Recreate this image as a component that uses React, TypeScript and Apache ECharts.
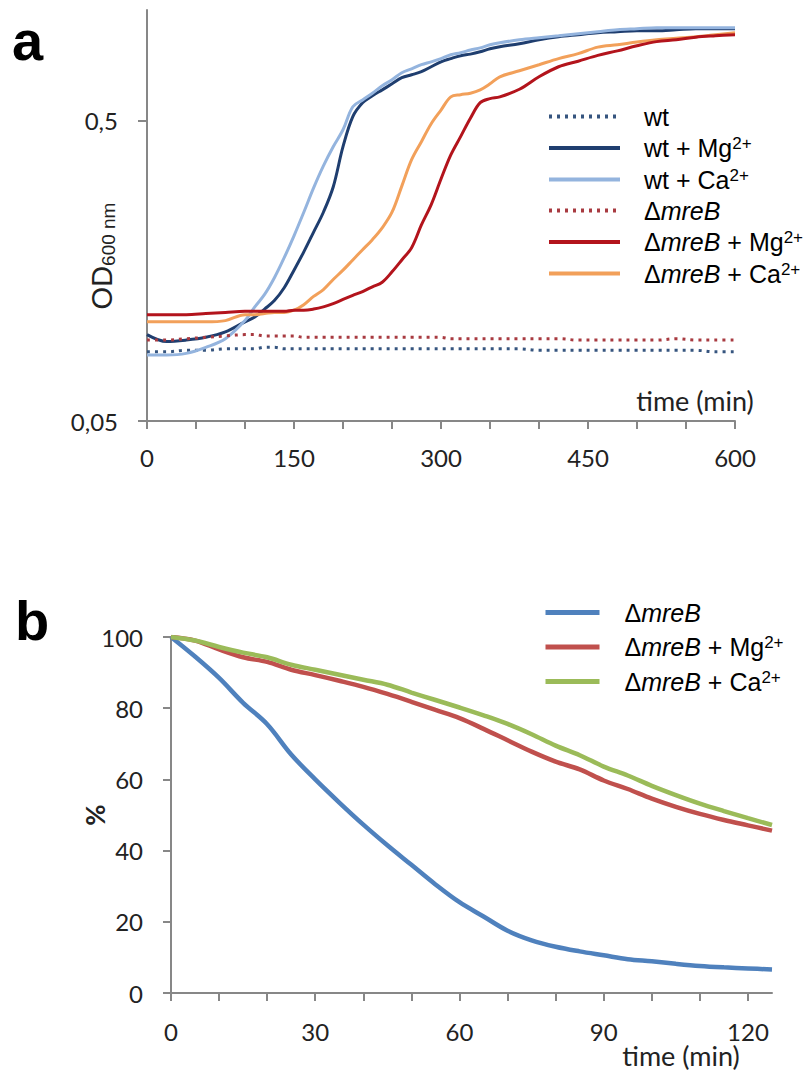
import React, { useEffect, useRef } from "react";
import * as echarts from "echarts";

// ---------- Panel a: growth curves (OD600, log scale) ----------
const TIME_A = [0, 20, 40, 60, 80, 100, 110, 120, 130, 140, 150, 160, 170, 180, 190, 200, 210, 220, 230, 240, 250, 260, 270, 280, 290, 300, 310, 320, 330, 340, 350, 360, 380, 400, 420, 440, 460, 480, 500, 520, 540, 560, 580, 600];

const WT = [0.085, 0.085, 0.086, 0.086, 0.087,
  0.087, 0.087, 0.088, 0.088, 0.087, 0.087, 0.087, 0.087, 0.087, 0.087, 0.087, 0.087, 0.087, 0.087, 0.087, 0.087, 0.087, 0.087, 0.087, 0.087, 0.087, 0.087, 0.087, 0.087, 0.087, 0.087, 0.087,
  0.087, 0.086, 0.086, 0.086, 0.086, 0.086, 0.086, 0.086, 0.086, 0.086, 0.085, 0.085];

const WT_MG = [0.097, 0.092, 0.093, 0.095, 0.099,
  0.107, 0.111, 0.118, 0.126, 0.139, 0.159, 0.183, 0.213, 0.248, 0.301, 0.41, 0.516, 0.574, 0.606, 0.634, 0.664, 0.696, 0.712, 0.729, 0.757, 0.786, 0.806, 0.824, 0.834, 0.849, 0.869, 0.883,
  0.903, 0.931, 0.953, 0.968, 0.983, 0.99, 0.998, 0.998, 1.005, 1.013, 1.013, 1.013];

const WT_CA = [0.083, 0.083, 0.084, 0.088, 0.094,
  0.108, 0.12, 0.132, 0.15, 0.175, 0.207, 0.248, 0.299, 0.354, 0.41, 0.467, 0.557, 0.587, 0.618, 0.654, 0.685, 0.723, 0.745, 0.769, 0.786, 0.806, 0.83, 0.843, 0.861, 0.875, 0.896, 0.91,
  0.931, 0.946, 0.96, 0.975, 0.99, 1.005, 1.013, 1.021, 1.021, 1.021, 1.021, 1.021];

const MREB = [0.093, 0.093, 0.094, 0.095, 0.096,
  0.097, 0.097, 0.096, 0.096, 0.096, 0.096, 0.095, 0.095, 0.095, 0.095, 0.095, 0.095, 0.095, 0.095, 0.095, 0.095, 0.095, 0.095, 0.095, 0.095, 0.095, 0.094, 0.094, 0.094, 0.094, 0.094, 0.094,
  0.094, 0.094, 0.094, 0.093, 0.093, 0.093, 0.093, 0.093, 0.094, 0.093, 0.093, 0.093];

const MREB_MG = [0.113, 0.113, 0.113, 0.114, 0.115,
  0.116, 0.116, 0.116, 0.116, 0.116, 0.117, 0.117, 0.118, 0.12, 0.123, 0.127, 0.131, 0.135, 0.14, 0.145, 0.157, 0.172, 0.189, 0.225, 0.263, 0.32, 0.385, 0.443, 0.51, 0.575, 0.593, 0.601,
  0.637, 0.701, 0.757, 0.79, 0.826, 0.855, 0.889, 0.918, 0.931, 0.95, 0.96, 0.968];

const MREB_CA = [0.107, 0.107, 0.107, 0.107, 0.108,
  0.113, 0.113, 0.114, 0.115, 0.115, 0.117, 0.122, 0.13, 0.137, 0.148, 0.159, 0.172, 0.186, 0.201, 0.22, 0.248, 0.303, 0.371, 0.426, 0.489, 0.543, 0.601, 0.611, 0.618, 0.634, 0.664, 0.701,
  0.734, 0.769, 0.806, 0.837, 0.88, 0.896, 0.915, 0.931, 0.942, 0.953, 0.968, 0.983];

const TICKS_X_A = [0, 50, 100, 150, 200, 250, 300, 350, 400, 450, 500, 550, 600];
const LABELS_X_A = [0, 150, 300, 450, 600];
const LABELS_Y_A = [0.05, 0.5];

// ---------- Panel b: survival (%) ----------
const TIME_B = [0, 5, 10, 15, 20, 25, 30, 35, 40, 45, 50, 55, 60, 65, 70, 75, 80, 85, 90, 95, 100, 105, 110, 115, 120, 125];
const B_MREB = [100, 94.5, 88.5, 81.5, 75.5, 67, 60, 53.5, 47.3, 41.5, 36, 30.5, 25.5, 21.5, 17.5, 14.8, 13, 11.7, 10.6, 9.5, 8.9, 8.2, 7.6, 7.2, 6.9, 6.6];
const B_MREB_MG = [100, 99, 96.5, 94.3, 93, 90.8, 89.3, 87.7, 86, 84, 81.8, 79.5, 77.2, 74.2, 71, 67.8, 65, 62.8, 59.7, 57.3, 54.6, 52.3, 50.3, 48.6, 47.1, 45.6];
const B_MREB_CA = [100, 99, 97.2, 95.6, 94.3, 92.2, 90.8, 89.4, 88, 86.6, 84.4, 82.3, 80.2, 78, 75.6, 72.7, 69.5, 66.8, 63.6, 61.1, 58.2, 55.6, 53.2, 51.1, 49.1, 47.2];

const TICKS_X_B = [0, 10, 20, 30, 40, 50, 60, 70, 80, 90, 100, 110, 120];
const LABELS_X_B = [0, 30, 60, 90, 120];

const NUM_FONT = "Lato, 'Open Sans', sans-serif";
const LEG_FONT = "'Liberation Sans', Arial, sans-serif";
const AXIS_COLOR = "#878787";
const TEXT_COLOR = "#222222";

const LEGEND_LABELS: Record<string, string> = {
  "wt": "{n|wt}",
  "wt + Mg2+": "{n|wt + Mg}{s|2+}",
  "wt + Ca2+": "{n|wt + Ca}{s|2+}",
  "ΔmreB": "{n|Δ}{i|mreB}",
  "ΔmreB + Mg2+": "{n|Δ}{i|mreB}{n| + Mg}{s|2+}",
  "ΔmreB + Ca2+": "{n|Δ}{i|mreB}{n| + Ca}{s|2+}",
};

const RICH = {
  n: { fontFamily: LEG_FONT, fontSize: 25, color: "#000", lineHeight: 26 },
  i: { fontFamily: LEG_FONT, fontSize: 25, fontStyle: "italic", color: "#000", lineHeight: 26 },
  s: { fontFamily: LEG_FONT, fontSize: 17, color: "#000", lineHeight: 15, verticalAlign: "top" },
};

function pairs(xs: number[], ys: number[]) {
  return xs.map((x, i) => [x, ys[i]]);
}

function lineSeries(name: string, xs: number[], ys: number[], color: string, width: number, type: any, z = 2) {
  return {
    type: "line",
    name,
    data: pairs(xs, ys),
    showSymbol: false,
    symbol: "none",
    smooth: 0.35,
    z,
    itemStyle: { color },
    lineStyle: { color, width, type },
  };
}

const axisLineStyle = { color: AXIS_COLOR, width: 2 };
const hiddenSymbol = { color: "rgba(0,0,0,0)", borderColor: "rgba(0,0,0,0)", borderWidth: 0, opacity: 0 };

export default function App() {
  const refA = useRef<HTMLDivElement>(null);
  const refB = useRef<HTMLDivElement>(null);

  useEffect(() => {
    document.body.style.margin = "0";
    const chartA = echarts.init(refA.current!, undefined, { renderer: "svg" });
    const chartB = echarts.init(refB.current!, undefined, { renderer: "svg" });

    const dotted = [3, 5];

    chartA.setOption({
      animation: false,
      grid: { left: 147, right: 77, top: 10, bottom: 119 },
      xAxis: {
        type: "value",
        min: 0,
        max: 600,
        splitLine: { show: false },
        axisLine: { show: true, lineStyle: axisLineStyle },
        axisTick: { show: true, customValues: TICKS_X_A, length: 8, lineStyle: axisLineStyle },
        axisLabel: { customValues: LABELS_X_A, margin: 24, fontFamily: NUM_FONT, fontSize: 24, color: TEXT_COLOR },
      },
      yAxis: {
        type: "log",
        logBase: 10,
        min: 0.05,
        max: 1.17,
        splitLine: { show: false },
        minorTick: { show: false },
        axisLine: { show: true, lineStyle: axisLineStyle },
        axisTick: { show: true, customValues: LABELS_Y_A, length: 9, lineStyle: axisLineStyle },
        axisLabel: {
          customValues: LABELS_Y_A,
          margin: 29,
          fontFamily: NUM_FONT,
          fontSize: 24,
          color: TEXT_COLOR,
          formatter: (v: number) => String(Number(Number(v).toPrecision(2))).replace(".", ","),
        },
      },
      legend: {
        orient: "vertical",
        left: 547,
        top: 104,
        padding: 0,
        itemWidth: 71,
        itemHeight: 14,
        itemGap: 6,
        itemStyle: hiddenSymbol,
        lineStyle: { width: 4 },
        data: ["wt", "wt + Mg2+", "wt + Ca2+", "ΔmreB", "ΔmreB + Mg2+", "ΔmreB + Ca2+"],
        formatter: (n: string) => LEGEND_LABELS[n] || n,
        textStyle: { padding: [0, 0, 0, 19], rich: RICH },
      },
      series: [
        lineSeries("wt", TIME_A, WT, "#36557f", 3, dotted),
        lineSeries("wt + Mg2+", TIME_A, WT_MG, "#1f3e6f", 3, "solid"),
        lineSeries("wt + Ca2+", TIME_A, WT_CA, "#94b4de", 3, "solid"),
        lineSeries("ΔmreB", TIME_A, MREB, "#a83a40", 3, dotted),
        lineSeries("ΔmreB + Mg2+", TIME_A, MREB_MG, "#b3141c", 3, "solid", 3),
        lineSeries("ΔmreB + Ca2+", TIME_A, MREB_CA, "#f2a05a", 3, "solid"),
      ],
      graphic: [
        {
          type: "text",
          style: { x: 12, y: 40, text: "a", font: "bold 56px 'Liberation Sans', Arial, sans-serif", fill: "#000", textAlign: "left", textVerticalAlign: "middle", verticalAlign: "middle" },
        },
        {
          type: "text",
          x: 102,
          y: 256,
          rotation: Math.PI / 2,
          style: {
            text: "{a|OD}{b|600 nm}",
            align: "center",
            verticalAlign: "middle",
            textAlign: "center",
            textVerticalAlign: "middle",
            rich: {
              a: { fontFamily: LEG_FONT, fontSize: 29, fill: TEXT_COLOR, color: TEXT_COLOR, lineHeight: 32 },
              b: { fontFamily: LEG_FONT, fontSize: 19, fill: TEXT_COLOR, color: TEXT_COLOR, lineHeight: 18, verticalAlign: "bottom" },
            },
          },
        },
        {
          type: "text",
          style: { x: 695, y: 400, text: "time (min)", font: `27px ${NUM_FONT}`, fill: TEXT_COLOR, textAlign: "center", verticalAlign: "middle", textVerticalAlign: "middle" },
        },
      ],
    });

    chartB.setOption({
      animation: false,
      grid: { left: 171, right: 40, top: 97, bottom: 77 },
      xAxis: {
        type: "value",
        min: 0,
        max: 125,
        splitLine: { show: false },
        axisLine: { show: true, lineStyle: axisLineStyle },
        axisTick: { show: true, customValues: TICKS_X_B, length: 8, lineStyle: axisLineStyle },
        axisLabel: { customValues: LABELS_X_B, margin: 26, fontFamily: NUM_FONT, fontSize: 24, color: TEXT_COLOR },
      },
      yAxis: {
        type: "value",
        min: 0,
        max: 100,
        interval: 20,
        splitLine: { show: false },
        axisLine: { show: true, lineStyle: axisLineStyle },
        axisTick: { show: true, length: 8, lineStyle: axisLineStyle },
        axisLabel: { margin: 28, fontFamily: NUM_FONT, fontSize: 24, color: TEXT_COLOR },
        name: "%",
        nameLocation: "middle",
        nameRotate: 90,
        nameGap: 63,
        nameMoveOverlap: false,
        nameTextStyle: { fontFamily: NUM_FONT, fontSize: 26, fontWeight: "bold", color: TEXT_COLOR },
      },
      legend: {
        orient: "vertical",
        left: 543,
        top: 60,
        padding: 0,
        itemWidth: 54,
        itemHeight: 14,
        itemGap: 9,
        itemStyle: hiddenSymbol,
        lineStyle: { width: 5 },
        data: ["ΔmreB", "ΔmreB + Mg2+", "ΔmreB + Ca2+"],
        formatter: (n: string) => LEGEND_LABELS[n] || n,
        textStyle: { padding: [0, 0, 0, 20], rich: RICH },
      },
      series: [
        lineSeries("ΔmreB", TIME_B, B_MREB, "#4f81bd", 4.5, "solid"),
        lineSeries("ΔmreB + Mg2+", TIME_B, B_MREB_MG, "#c0504d", 4.5, "solid"),
        lineSeries("ΔmreB + Ca2+", TIME_B, B_MREB_CA, "#9bbb59", 4.5, "solid"),
      ],
      graphic: [
        {
          type: "text",
          style: { x: 15, y: 80, text: "b", font: "bold 56px 'Liberation Sans', Arial, sans-serif", fill: "#000", textAlign: "left", verticalAlign: "middle", textVerticalAlign: "middle" },
        },
        {
          type: "text",
          style: { x: 681, y: 515, text: "time (min)", font: `27px ${NUM_FONT}`, fill: TEXT_COLOR, textAlign: "center", verticalAlign: "middle", textVerticalAlign: "middle" },
        },
      ],
    });

    return () => {
      chartA.dispose();
      chartB.dispose();
    };
  }, []);

  return (
    <div style={{ width: 812, height: 1070 }}>
      <div ref={refA} style={{ width: 812, height: 540 }} />
      <div ref={refB} style={{ width: 812, height: 530 }} />
    </div>
  );
}
